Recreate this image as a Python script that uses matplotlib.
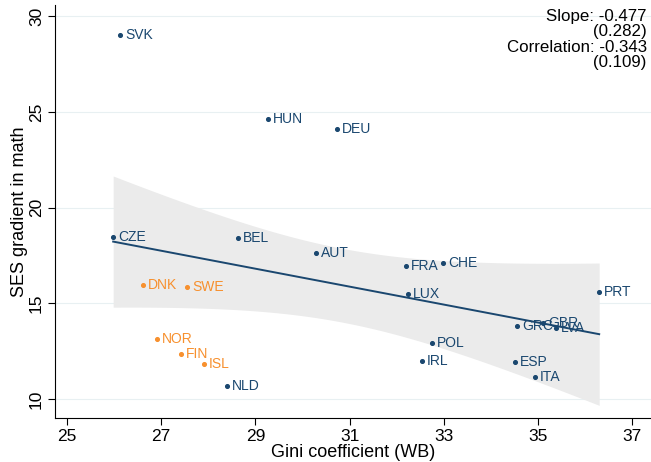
import numpy as np
import matplotlib
matplotlib.use("Agg")
import matplotlib.pyplot as plt

plt.rcParams["font.family"] = ["Liberation Sans", "DejaVu Sans"]

# countries, Gini (WB) and SES gradient in math
countries = ["SVK", "HUN", "DEU", "CZE", "BEL", "AUT", "FRA", "CHE", "LUX", "PRT",
             "GRC", "GBR", "LVA", "POL", "IRL", "ESP", "ITA", "NLD"]
gini = [26.13, 29.27, 30.74, 25.98, 28.63, 30.29, 32.20, 32.99, 32.24, 36.30,
        34.56, 35.11, 35.39, 32.75, 32.54, 34.52, 34.94, 28.40]
ses = [29.0, 24.65, 24.12, 18.45, 18.4, 17.6, 16.93, 17.09, 15.46, 15.56,
       13.83, 13.99, 13.73, 12.94, 11.99, 11.94, 11.15, 10.68]

nordic = ["DNK", "SWE", "NOR", "FIN", "ISL"]
gini_nordic = [26.61, 27.55, 26.91, 27.42, 27.91]
ses_nordic = [15.93, 15.83, 13.15, 12.36, 11.84]

navy = "#1a476f"
orange = "#f7902e"

x_all = np.array(gini + gini_nordic)
y_all = np.array(ses + ses_nordic)

# linear fit with 95% CI of the mean prediction
n = len(x_all)
b, a = np.polyfit(x_all, y_all, 1)
resid = y_all - (a + b * x_all)
s = np.sqrt(np.sum(resid ** 2) / (n - 2))
sxx = np.sum((x_all - x_all.mean()) ** 2)
xs = np.linspace(x_all.min(), x_all.max(), 200)
ys = a + b * xs
se = s * np.sqrt(1 / n + (xs - x_all.mean()) ** 2 / sxx)
t = 2.074
lo, hi = ys - t * se, ys + t * se

fig = plt.figure(figsize=(6.51, 4.62), dpi=100)
ax = fig.add_axes([0.0845, 0.0952, 0.9155, 0.8938])

ax.fill_between(xs, lo, hi, color="#ebebeb", lw=0, zorder=1)
ax.plot(xs, ys, color=navy, lw=1.4, zorder=2)

ax.scatter(gini, ses, s=7, color=navy, zorder=3)
for c, x, y in zip(countries, gini, ses):
    ax.annotate(c, (x, y), xytext=(3.5, 0), textcoords="offset points",
                va="center", ha="left", fontsize=10, color=navy, zorder=4)

ax.scatter(gini_nordic, ses_nordic, s=7, color=orange, zorder=3)
for c, x, y in zip(nordic, gini_nordic, ses_nordic):
    ax.annotate(c, (x, y), xytext=(3.5, 0), textcoords="offset points",
                va="center", ha="left", fontsize=10, color=orange, zorder=4)

ax.set_xlim(24.745, 37.40)
ax.set_ylim(9.0, 30.58)
ax.set_xticks([25, 27, 29, 31, 33, 35, 37])
ax.set_yticks([10, 15, 20, 25, 30])
ax.set_yticklabels(["10", "15", "20", "25", "30"], rotation=90, va="center")
ax.tick_params(labelsize=12.5, length=5, width=0.8, direction="out", pad=3)
ax.grid(axis="y", color="#e8f0f2", lw=0.8)
ax.set_axisbelow(True)
for sp in ["top", "right"]:
    ax.spines[sp].set_visible(False)
ax.spines["left"].set_linewidth(0.8)
ax.spines["bottom"].set_linewidth(0.8)

ax.set_xlabel("Gini coefficient (WB)", fontsize=13, labelpad=0)
ax.set_ylabel("SES gradient in math", fontsize=13, labelpad=1)

ax.text(0.993, 0.99, "Slope: -0.477\n(0.282)\nCorrelation: -0.343\n(0.109)",
        transform=ax.transAxes, ha="right", va="top", fontsize=12.2,
        linespacing=1.02)

fig.savefig("out.png", dpi=100)
